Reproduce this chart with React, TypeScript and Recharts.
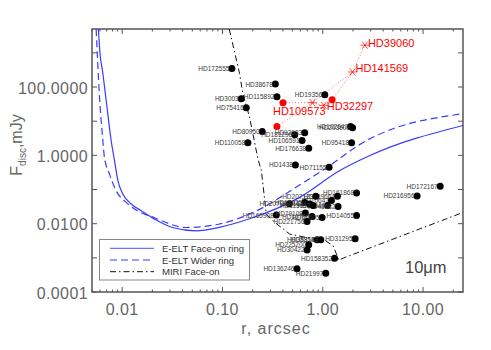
import React from 'react'
import { ScatterChart, Scatter, XAxis, YAxis, ReferenceArea } from 'recharts'

// axis ticks
const xTicks = [
  0.005, 0.006, 0.007, 0.008, 0.009,
  0.01, 0.02, 0.03, 0.04, 0.05, 0.06, 0.07, 0.08, 0.09,
  0.1, 0.2, 0.3, 0.4, 0.5, 0.6, 0.7, 0.8, 0.9,
  1, 2, 3, 4, 5, 6, 7, 8, 9,
  10, 20,
]
const xMajor = [0.01, 0.1, 1, 10]
const yTicks = [0.0001, 0.001, 0.01, 0.1, 1, 10, 100, 1000]

// E-ELT face-on ring (solid)
const ringR = [0.00579, 0.00603, 0.00635, 0.00692, 0.00776, 0.00838, 0.00906, 0.01016, 0.0123, 0.0155, 0.021, 0.0316, 0.0546, 0.0933, 0.186, 0.589, 1.479, 2.95, 25]
const ringF = [5000, 850, 310, 41, 2.72, 0.703, 0.182, 0.074, 0.0377, 0.0239, 0.0136, 0.00773, 0.00618, 0.0078, 0.0139, 0.0589, 0.358, 0.987, 7.5]

// E-ELT wider ring (dashed)
const widerR = [0.0055, 0.00589, 0.00641, 0.00665, 0.00746, 0.0087, 0.01096, 0.01327, 0.021, 0.0434, 0.0933, 0.186, 0.687, 0.933, 2.735, 25]
const widerF = [5000, 80, 2.72, 0.88, 0.286, 0.0925, 0.042, 0.0269, 0.0149, 0.00773, 0.0098, 0.0191, 0.182, 0.319, 2.72, 16.6]

// MIRI face-on (dash-dot)
const miriR = [0.1167, 0.148, 0.1596, 0.186, 0.2255, 0.244, 0.2735, 0.318, 0.468, 0.687, 1.007, 1.267, 1.371, 1.445, 1.596, 25]
const miriF = [5000, 248, 64, 13.2, 0.79, 0.358, 0.0191, 0.01216, 0.00495, 0.00394, 0.00353, 0.00225, 0.00128, 0.000853, 0.00098, 0.0213]

// predicted stars (black)
const starNames = [
  'HD172555', 'HD38678', 'HD3003', 'HD115892', 'HD75416', 'HD19356', 'HD80950', 'HD181296',
  'HD92633', 'HD110058', 'HD106591', 'HD176638', 'HD102647', 'HD203608', 'HD95418', 'HD1438',
  'HD71155', 'HD172167', 'HD216956', 'HD161868', 'HD139664', 'HD10647', 'HD207129', 'HD22049',
  'HD48682', 'HD20794', 'HD17925', 'HD1581', 'HD115617', 'HD165908', 'HD79108', 'HD10700',
  'HD61005', 'HD221756', 'HD14055', 'HD38858', 'HD53143', 'HD225200', 'HD30422', 'HD31295',
  'HD158352', 'HD136246', 'HD21997',
]
const starR = [
  0.124, 0.3365, 0.1538, 0.349, 0.1726, 1.047, 0.249, 0.525,
  0.66, 0.179, 0.621, 0.724, 1.892, 1.98, 1.936, 0.533,
  1.156, 14.8, 8.71, 2.17, 1.4, 1.22, 0.851, 1.114,
  1.42, 0.465, 0.66, 0.741, 0.8, 0.344, 0.671, 0.782,
  0.984, 0.697, 2.17, 0.877, 0.955, 0.724, 0.697, 2.1,
  1.31, 0.553, 1.07,
]
const starF = [
  347, 122, 45.6, 52.2, 24.8, 59.8, 5.0, 4.0,
  4.58, 2.33, 2.72, 1.61, 7.0, 6.42, 2.33, 0.526,
  0.447, 0.124, 0.0647, 0.0792, 0.063, 0.048, 0.063, 0.0342,
  0.032, 0.0384, 0.042, 0.0377, 0.0342, 0.0179, 0.0205, 0.0163,
  0.0152, 0.0116, 0.0174, 0.00337, 0.00337, 0.0024, 0.00171, 0.0036,
  0.00098, 0.00048, 0.000354,
]

// resolved discs (red): filled = observed, asterisk = model
const obsNames = ['HD109573', '', '']
const obsR = [0.401, 0.349, 1.239]
const obsF = [34.9, 7.0, 42.7]
const modelNames = ['', 'HD32297', 'HD141569', 'HD39060']
const modelR = [0.789, 1.023, 1.98, 2.63]
const modelF = [34.9, 29.0, 276, 1680]

type Pt = { x: number; y: number; name?: string }
const zip = (r: number[], f: number[], names?: string[]): Pt[] =>
  r.map((x, i) => ({ x, y: f[i], name: names ? names[i] : undefined }))

const ring = zip(ringR, ringF)
const wider = zip(widerR, widerF)
const miri = zip(miriR, miriF)
const stars = zip(starR, starF, starNames)
const obs = zip(obsR, obsF, obsNames)
const model = zip(modelR, modelF, modelNames)
const linkA = [obs[1], model[0], model[2], model[3]]
const linkB = [obs[0], model[0], model[1], obs[2], model[2]]

const PLOT_W = 371
const PLOT_H = 263
const AXIS = '#555'
const FONT = '"Liberation Sans", Arial, sans-serif'

const redLabel: Record<string, [number, number]> = {
  HD109573: [-10, 8],
  HD32297: [3, 1],
  HD141569: [3, -4],
  HD39060: [3, -2],
}

const noShape = () => <g />

function XTick(props: any) {
  const { x, y, payload } = props
  const v = payload.value
  const major = xMajor.some((m) => Math.abs(m - v) < 1e-9)
  const len = major ? 5 : 2.5
  return (
    <g>
      <line x1={x} x2={x} y1={y} y2={y - len} stroke={AXIS} strokeWidth={1} />
      <line x1={x} x2={x} y1={y - PLOT_H} y2={y - PLOT_H + len} stroke={AXIS} strokeWidth={1} />
      {major && (
        <text x={x} y={y + 17} textAnchor="middle" dominantBaseline="central"
          fontSize={16} letterSpacing={0.4} fill="#666" fontFamily={FONT}>
          {v.toFixed(2)}
        </text>
      )}
    </g>
  )
}

function YTick(props: any) {
  const { x, y, payload } = props
  const v = payload.value
  const even = Math.round(Math.log10(v)) % 2 === 0
  return (
    <g>
      <line x1={x} x2={x + 5} y1={y} y2={y} stroke={AXIS} strokeWidth={1} />
      <line x1={x + PLOT_W} x2={x + PLOT_W - 5} y1={y} y2={y} stroke={AXIS} strokeWidth={1} />
      {even && (
        <text x={x - 4} y={y + 1} textAnchor="end" dominantBaseline="central"
          fontSize={16} letterSpacing={0.4} fill="#666" fontFamily={FONT}>
          {v.toFixed(4)}
        </text>
      )}
    </g>
  )
}

function StarDot(props: any) {
  const { cx, cy, payload } = props
  return (
    <g>
      <circle cx={cx} cy={cy} r={3.5} fill="#000" />
      <text x={cx - 2.5} y={cy} textAnchor="end" dominantBaseline="central"
        fontSize={6.5} fill="#3a3a3a" fontFamily={FONT}>
        {payload.name}
      </text>
    </g>
  )
}

function RedLabel({ cx, cy, name }: { cx: number; cy: number; name?: string }) {
  if (!name) return null
  const [dx, dy] = redLabel[name] || [3, 0]
  return (
    <text x={cx + dx} y={cy + dy} dominantBaseline="central" fontSize={11}
      fill="#f00" fontFamily={FONT}>
      {name}
    </text>
  )
}

function ObsDot(props: any) {
  const { cx, cy, payload } = props
  return (
    <g>
      <circle cx={cx} cy={cy} r={3.5} fill="#f00" />
      <RedLabel cx={cx} cy={cy} name={payload.name} />
    </g>
  )
}

function ModelStar(props: any) {
  const { cx, cy, payload } = props
  const s = 4.5
  return (
    <g stroke="#f22" strokeWidth={0.8}>
      <line x1={cx - s} x2={cx + s} y1={cy} y2={cy} />
      <line x1={cx - s * 0.6} x2={cx + s * 0.6} y1={cy - s * 0.8} y2={cy + s * 0.8} />
      <line x1={cx - s * 0.6} x2={cx + s * 0.6} y1={cy + s * 0.8} y2={cy - s * 0.8} />
      <circle cx={cx} cy={cy} r={0.8} fill="#f22" stroke="none" />
      <g stroke="none">
        <RedLabel cx={cx} cy={cy} name={payload.name} />
      </g>
    </g>
  )
}

export default function App() {
  return (
    <div style={{ position: 'absolute', left: 0, top: 0, width: 491, height: 350, background: '#fff', fontFamily: FONT }}>
      <ScatterChart width={491} height={350} margin={{ top: 29, right: 28, bottom: 0, left: 0 }}>
        <XAxis type="number" dataKey="x" scale="log" domain={[0.005, 25]} allowDataOverflow
          ticks={xTicks} interval={0} tick={<XTick />} tickLine={false} tickSize={0} tickMargin={0}
          axisLine={false} height={58} />
        <YAxis type="number" dataKey="y" scale="log" domain={[0.0001, 5000]} allowDataOverflow
          ticks={yTicks} interval={0} tick={<YTick />} tickLine={false} tickSize={0} tickMargin={0}
          axisLine={false} width={92} />
        <ReferenceArea x1={0.005} x2={25} y1={0.0001} y2={5000} fill="none" fillOpacity={0}
          stroke={AXIS} strokeWidth={1.5} ifOverflow="visible" />
        <Scatter data={ring} shape={noShape} line={{ stroke: '#3a3aff', strokeWidth: 1.2 }}
          lineJointType="monotoneX" isAnimationActive={false} />
        <Scatter data={wider} shape={noShape} line={{ stroke: '#3a3aff', strokeWidth: 1.2, strokeDasharray: '7 4' }}
          lineJointType="monotoneX" isAnimationActive={false} />
        <Scatter data={miri} shape={noShape} line={{ stroke: '#111', strokeWidth: 1, strokeDasharray: '6 3 1.5 3' }}
          isAnimationActive={false} />
        <Scatter data={linkA} shape={noShape} line={{ stroke: '#ff7070', strokeWidth: 1, strokeDasharray: '1 2' }}
          isAnimationActive={false} />
        <Scatter data={linkB} shape={noShape} line={{ stroke: '#ff7070', strokeWidth: 1, strokeDasharray: '1 2' }}
          isAnimationActive={false} />
        <Scatter data={stars} shape={<StarDot />} isAnimationActive={false} />
        <Scatter data={model} shape={<ModelStar />} isAnimationActive={false} />
        <Scatter data={obs} shape={<ObsDot />} isAnimationActive={false} />
      </ScatterChart>
      <svg width={491} height={350} style={{ position: 'absolute', left: 0, top: 0, pointerEvents: 'none' }}>
        <text transform="translate(22,145) rotate(-90)" textAnchor="middle" fontSize={16} fill="#666" fontFamily={FONT}>
          F<tspan fontSize={10} dy={4}>disc</tspan><tspan dy={-4}>,mJy</tspan>
        </text>
        <text x={276} y={328} textAnchor="middle" dominantBaseline="central" fontSize={16}
          letterSpacing={1} fill="#666" fontFamily={FONT}>
          r, arcsec
        </text>
        <text x={405} y={267} dominantBaseline="central" fontSize={16.5} fill="#444" fontFamily={FONT}>
          10μm
        </text>
        <rect x={99.5} y={239.5} width={150} height={40.5} fill="#fff" stroke="#888" strokeWidth={1} />
        <line x1={110} x2={154} y1={248.3} y2={248.3} stroke="#7070ff" strokeWidth={1.2} />
        <line x1={110} x2={154} y1={260} y2={260} stroke="#3a3aff" strokeWidth={1.2} strokeDasharray="7 4" />
        <line x1={110} x2={154} y1={271.7} y2={271.7} stroke="#111" strokeWidth={1} strokeDasharray="6 3 1.5 3" />
        <g fontSize={9.5} fill="#333" fontFamily={FONT} dominantBaseline="central">
          <text x={162} y={248.3}>E-ELT Face-on ring</text>
          <text x={162} y={260}>E-ELT Wider ring</text>
          <text x={162} y={271.7}>MIRI Face-on</text>
        </g>
      </svg>
    </div>
  )
}
